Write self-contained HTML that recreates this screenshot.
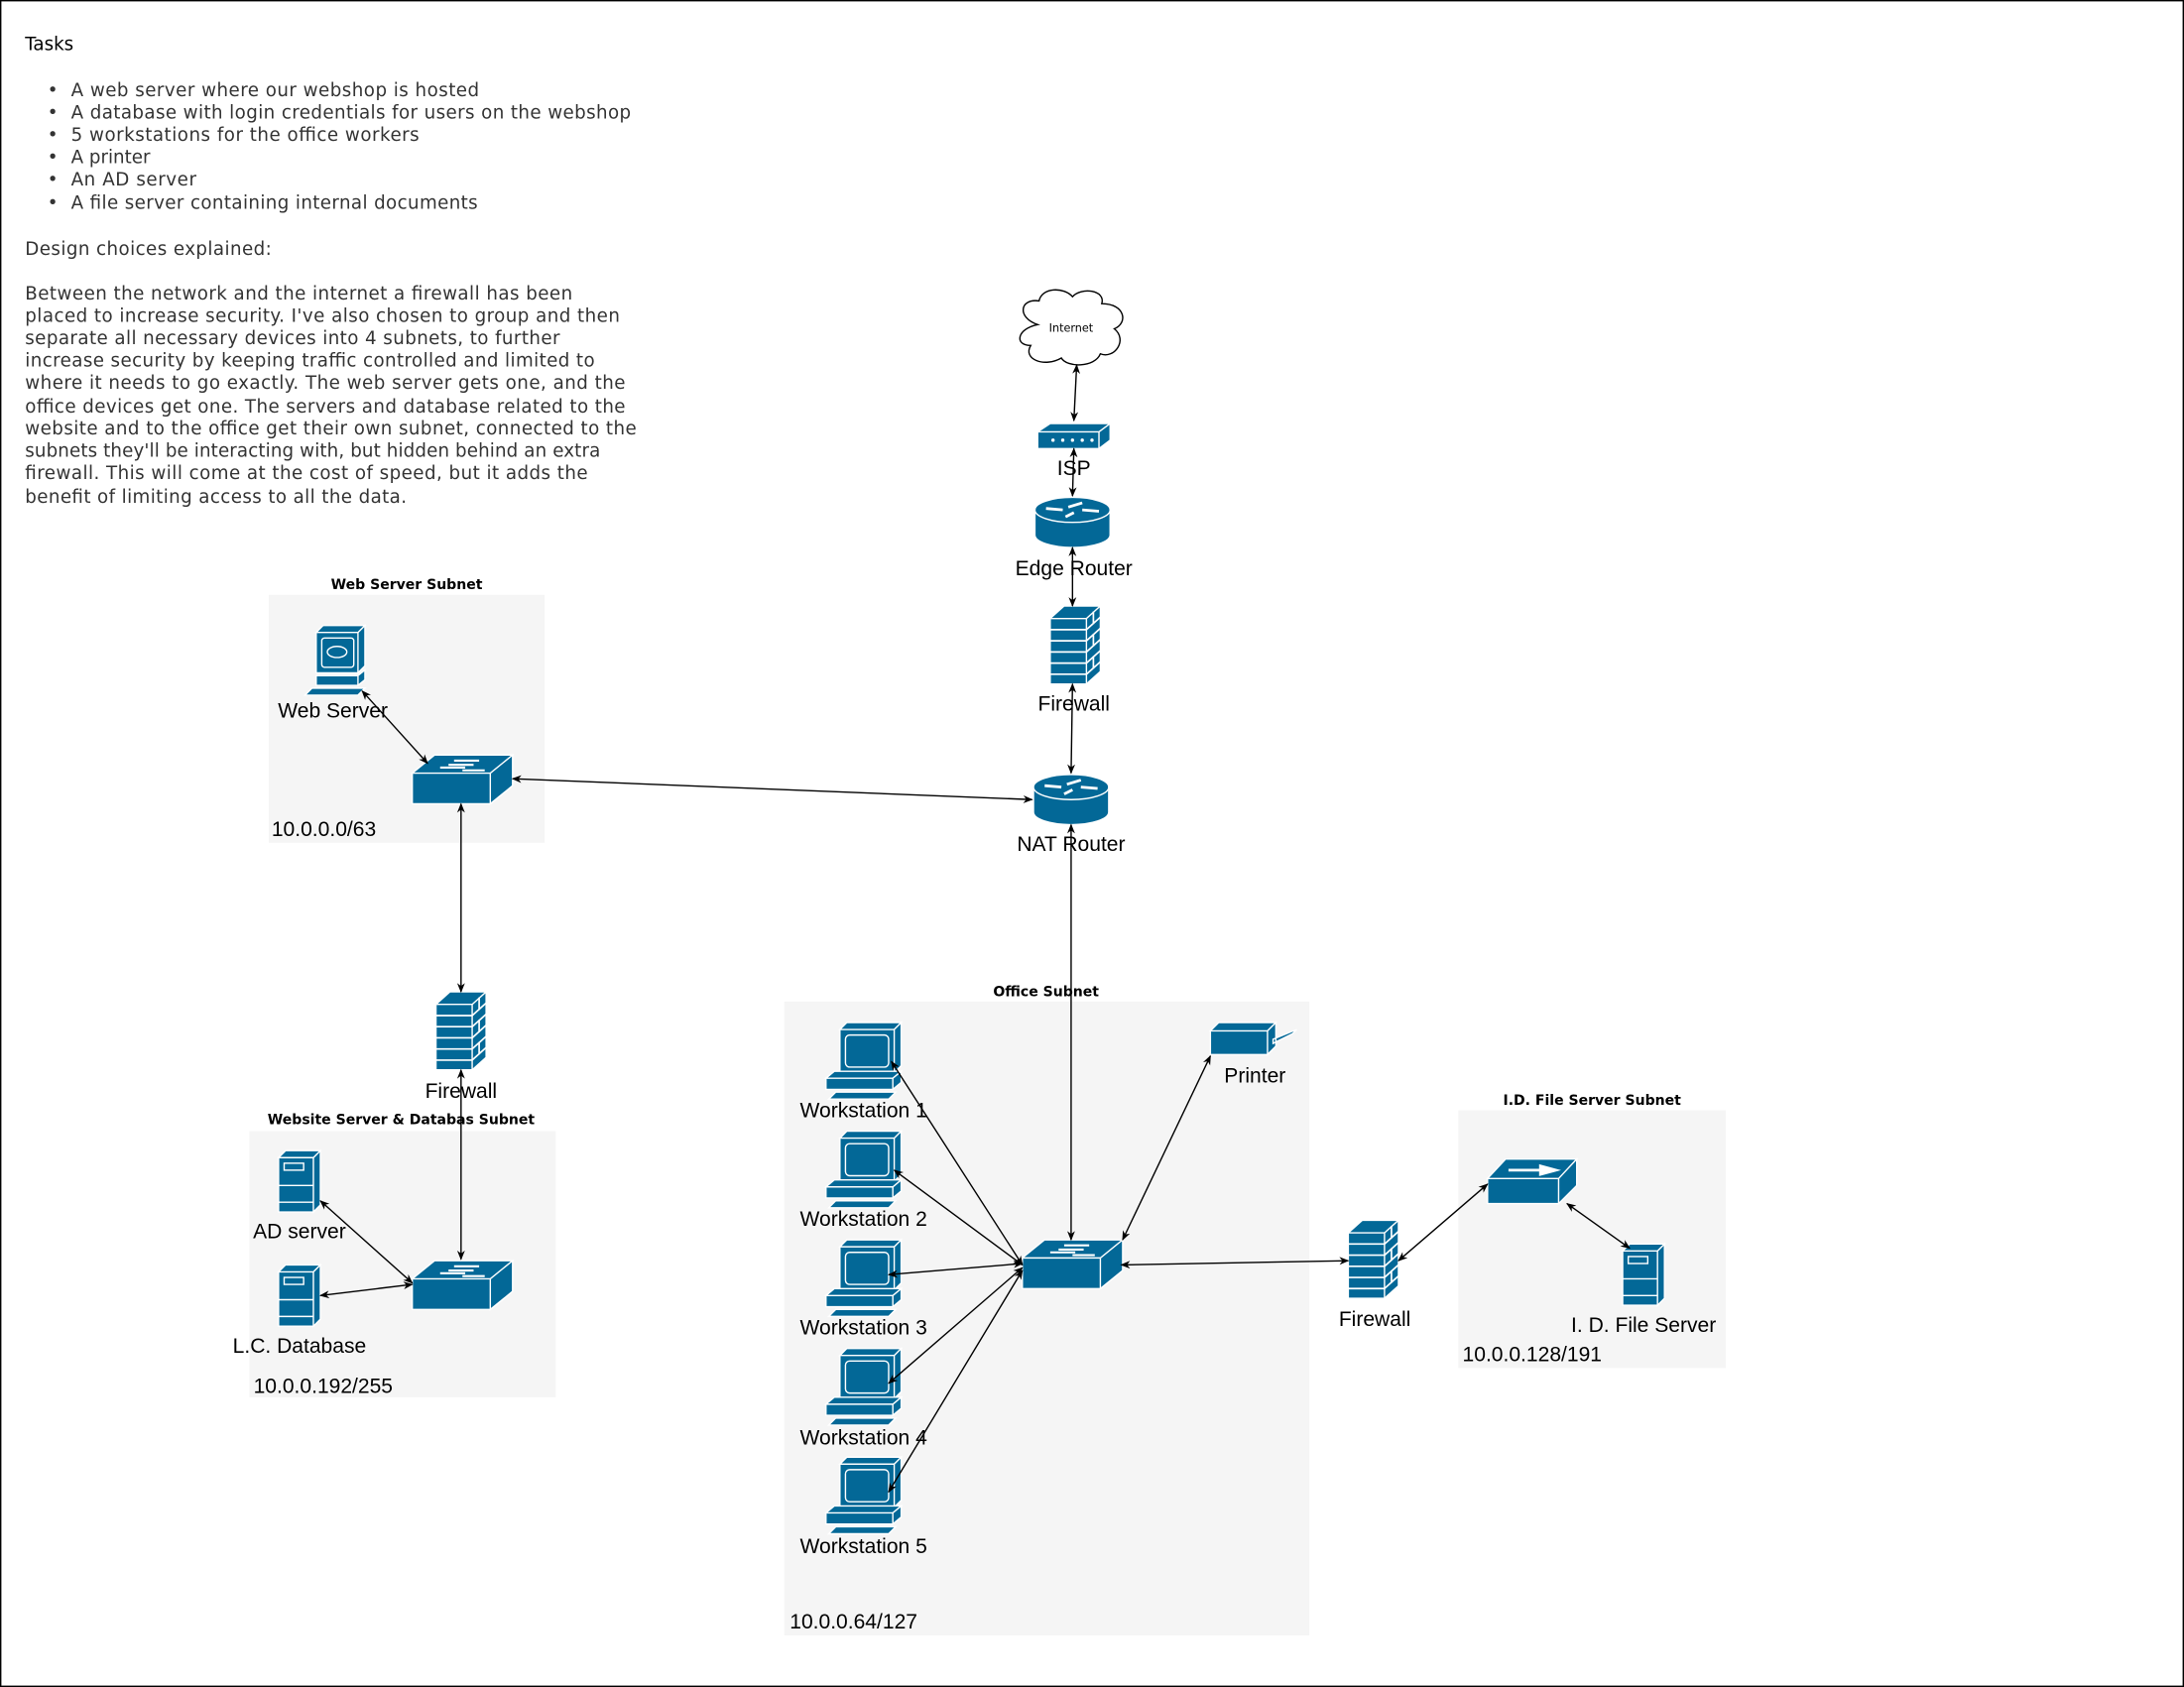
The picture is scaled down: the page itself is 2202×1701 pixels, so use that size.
<!DOCTYPE html>
<html><head><meta charset="utf-8"><style>
html,body{margin:0;padding:0;background:#fff;}
svg{display:block;}
.t{font-family:"DejaVu Sans",sans-serif;font-size:13px;fill:#333;}
.l{font-family:"Liberation Sans",sans-serif;font-size:15px;fill:#000;text-anchor:middle;}
.ll{font-family:"Liberation Sans",sans-serif;font-size:15px;fill:#000;}
.h{font-family:"DejaVu Sans",sans-serif;font-size:10px;font-weight:bold;fill:#000;text-anchor:middle;}
.c{stroke:#000;stroke-width:1;fill:none;marker-start:url(#a);marker-end:url(#a);}
</style></head><body>
<svg width="2202" height="1701" viewBox="0 0 1568 1211" preserveAspectRatio="none" xmlns="http://www.w3.org/2000/svg">
<defs>
<marker id="a" viewBox="0 0 10 10" refX="9" refY="5" markerWidth="7" markerHeight="7" orient="auto-start-reverse" markerUnits="userSpaceOnUse"><path d="M0,1 L10,5 L0,9 L3,5 Z" fill="#000"/></marker>
<g id="sw"><path d="M0,13 L16,0 L72,0 L56,13 Z M0,13 H56 V35 H0 Z M56,13 L72,0 V22 L56,35 Z" fill="#036897" stroke="#fff" stroke-width="1"/><path d="M20,9 H38 M30,4 H48 M26,7 H44 M36,11 H52" stroke="#fff" stroke-width="1.5"/></g>
<g id="fw"><path d="M0,9 L10,0 H36 L26,9 Z M0,9 H26 V56 H0 Z M26,9 L36,0 V47 L26,56 Z" fill="#036897" stroke="#fff" stroke-width="1"/><path d="M0,17 H26 M0,25 H26 M0,33 H26 M0,41 H26 M0,49 H26 M26,17 L36,8 M26,25 L36,16 M26,33 L36,24 M26,41 L36,32 M26,49 L36,40 M31,4 V13 M31,20 V29 M31,36 V45" stroke="#fff" stroke-width="1.2"/></g>
<g id="rt"><path d="M0,9 V27 A27,9 0 0 0 54,27 V9 Z" fill="#036897" stroke="#fff"/><ellipse cx="27" cy="9" rx="27" ry="9" fill="#036897" stroke="#fff"/><path d="M8,8 L20,9 M34,4 L24,7 M46,10 L34,9 M22,14 L28,11" stroke="#fff" stroke-width="2"/></g>
<g id="pc"><path d="M10,5 L15,0 H54 L49,5 Z M10,5 H49 V36 H10 Z M49,5 L54,0 V31 L49,36 Z" fill="#036897" stroke="#fff"/><rect x="14" y="9" width="31" height="23" rx="3" fill="#036897" stroke="#fff"/><path d="M0,40 L6,35 H54 L48,40 Z M0,40 H48 V48 H0 Z M48,40 L54,35 V43 L48,48 Z" fill="#036897" stroke="#fff"/><path d="M2,55 L7,50 H50 L45,55 Z" fill="#036897" stroke="#fff"/></g>
<g id="sv"><path d="M0,5 L5,0 H30 L25,5 Z M0,5 H25 V44 H0 Z M25,5 L30,0 V39 L25,44 Z" fill="#036897" stroke="#fff"/><rect x="4" y="9" width="14" height="5" fill="none" stroke="#fff"/><path d="M0,25 H25 M0,37 H25" stroke="#fff"/></g>
</defs>
<rect x="0.5" y="0.5" width="1567" height="1210" fill="#fff" stroke="#000"/>
<text class="t" x="18" y="36" style="fill:#000">Tasks</text>
<g class="t">
<text x="34" y="69">•</text><text x="51" y="69" textLength="293">A web server where our webshop is hosted</text>
<text x="34" y="85">•</text><text x="51" y="85" textLength="402">A database with login credentials for users on the webshop</text>
<text x="34" y="101">•</text><text x="51" y="101" textLength="250">5 workstations for the office workers</text>
<text x="34" y="117">•</text><text x="51" y="117">A printer</text>
<text x="34" y="133">•</text><text x="51" y="133" textLength="90">An AD server</text>
<text x="34" y="150">•</text><text x="51" y="150" textLength="292">A file server containing internal documents</text>
<text x="18" y="183" textLength="177">Design choices explained:</text>
<text x="18" y="215" textLength="393">Between the network and the internet a firewall has been</text>
<text x="18" y="231" textLength="427">placed to increase security. I've also chosen to group and then</text>
<text x="18" y="247" textLength="384">separate all necessary devices into 4 subnets, to further</text>
<text x="18" y="263" textLength="409">increase security by keeping traffic controlled and limited to</text>
<text x="18" y="279" textLength="431">where it needs to go exactly. The web server gets one, and the</text>
<text x="18" y="296" textLength="431">office devices get one. The servers and database related to the</text>
<text x="18" y="312" textLength="439">website and to the office get their own subnet, connected to the</text>
<text x="18" y="328" textLength="413">subnets they'll be interacting with, but hidden behind an extra</text>
<text x="18" y="344" textLength="404">firewall. This will come at the cost of speed, but it adds the</text>
<text x="18" y="361" textLength="274">benefit of limiting access to all the data.</text>
</g>
<rect x="193" y="427" width="198" height="178" fill="#f5f5f5"/>
<text class="h" x="292" y="423">Web Server Subnet</text>
<rect x="179" y="812" width="220" height="191" fill="#f5f5f5"/>
<text class="h" x="288" y="807">Website Server &amp; Databas Subnet</text>
<rect x="563" y="719" width="377" height="455" fill="#f5f5f5"/>
<text class="h" x="751" y="715">Office Subnet</text>
<rect x="1047" y="797" width="192" height="185" fill="#f5f5f5"/>
<text class="h" x="1143" y="793">I.D. File Server Subnet</text>
<path d="M745,233 C730,228 732,214 746,216 C748,206 764,206 770,213 C776,206 794,208 791,218 C808,218 810,232 800,236 C810,244 800,258 790,254 C786,264 766,264 762,257 C750,264 734,258 740,248 C728,248 730,236 745,233 Z" fill="#fff" stroke="#000"/>
<text x="769" y="238" style="font-family:'DejaVu Sans',sans-serif;font-size:8px;text-anchor:middle">Internet</text>
<path d="M745,310 L754,304 H797 L789,310 Z M745,310 H789 V322 H745 Z M789,310 L797,304 V316 L789,322 Z" fill="#036897" stroke="#fff"/>
<g fill="#fff"><circle cx="756" cy="316" r="1.2"/><circle cx="763" cy="316" r="1.2"/><circle cx="770" cy="316" r="1.2"/><circle cx="777" cy="316" r="1.2"/><circle cx="784" cy="316" r="1.2"/></g>
<text class="l" x="771" y="341">ISP</text>
<use href="#rt" x="743" y="357"/>
<text class="l" x="771" y="413">Edge Router</text>
<use href="#fw" x="754" y="435"/>
<text class="l" x="771" y="510">Firewall</text>
<use href="#rt" x="742" y="556"/>
<text class="l" x="769" y="611">NAT Router</text>
<g transform="translate(217,449)"><path d="M10,5 L15,0 H45 L40,5 Z M10,5 H40 V34 H10 Z M40,5 L45,0 V29 L40,34 Z M10,36 H40 V43 H10 Z M40,36 L45,32 V39 L40,43 Z M2,50 L7,45 H45 L40,50 Z" fill="#036897" stroke="#fff"/><rect x="14" y="9" width="23" height="21" rx="2" fill="none" stroke="#fff"/><ellipse cx="25" cy="19" rx="7" ry="4" fill="none" stroke="#fff"/></g>
<text class="l" x="239" y="515">Web Server</text>
<use href="#sw" x="296" y="542"/>
<text class="ll" x="195" y="600">10.0.0.0/63</text>
<use href="#fw" x="313" y="712"/>
<text class="l" x="331" y="788">Firewall</text>
<use href="#sv" x="200" y="826"/>
<text class="l" x="215" y="889">AD server</text>
<use href="#sv" x="200" y="908"/>
<text class="l" x="215" y="971">L.C. Database</text>
<use href="#sw" x="296" y="905"/>
<text class="ll" x="182" y="1000">10.0.0.192/255</text>
<use href="#pc" x="593" y="734"/><text class="l" x="620" y="802">Workstation 1</text>
<use href="#pc" x="593" y="812"/><text class="l" x="620" y="880">Workstation 2</text>
<use href="#pc" x="593" y="890"/><text class="l" x="620" y="958">Workstation 3</text>
<use href="#pc" x="593" y="968"/><text class="l" x="620" y="1037">Workstation 4</text>
<use href="#pc" x="593" y="1046"/><text class="l" x="620" y="1115">Workstation 5</text>
<path d="M869,740 L875,734 H916 L910,740 Z M869,740 H910 V757 H869 Z M910,740 L916,734 V751 L910,757 Z M914,746 L931,739 L928,742 L914,749 Z" fill="#036897" stroke="#fff"/>
<text class="l" x="901" y="777">Printer</text>
<use href="#sw" x="734" y="890"/>
<text class="ll" x="567" y="1169">10.0.0.64/127</text>
<use href="#fw" x="968" y="876"/>
<text class="l" x="987" y="952">Firewall</text>
<path d="M1068,846 L1081,832 H1132 L1119,846 Z M1068,846 H1119 V864 H1068 Z M1119,846 L1132,832 V851 L1119,864 Z" fill="#036897" stroke="#fff"/>
<path d="M1083,840 H1106 V837 L1117,840 L1106,843 V840" stroke="#fff" stroke-width="2" fill="#fff"/>
<use href="#sv" x="1165" y="893"/>
<text class="l" x="1180" y="956">I. D. File Server</text>
<text class="ll" x="1050" y="977">10.0.0.128/191</text>
<path class="c" d="M773,262 L771,302"/>
<path class="c" d="M771,322 L770,356"/>
<path class="c" d="M770,393 L770,435"/>
<path class="c" d="M770,491 L769,555"/>
<path class="c" d="M741,574 L368,559"/>
<path class="c" d="M260,496 L307,548"/>
<path class="c" d="M331,577 L331,712"/>
<path class="c" d="M331,768 L331,904"/>
<path class="c" d="M230,862 L296,921"/>
<path class="c" d="M230,930 L296,922"/>
<path class="c" d="M769,592 L769,890"/>
<path class="c" d="M869,758 L806,890"/>
<path class="c" d="M640,762 L734,908"/>
<path class="c" d="M642,840 L734,908"/>
<path class="c" d="M638,915 L734,907"/>
<path class="c" d="M638,993 L734,910"/>
<path class="c" d="M638,1071 L734,912"/>
<path class="c" d="M805,908 L968,905"/>
<path class="c" d="M1004,905 L1068,850"/>
<path class="c" d="M1125,864 L1170,896"/>
</svg>
</body></html>
